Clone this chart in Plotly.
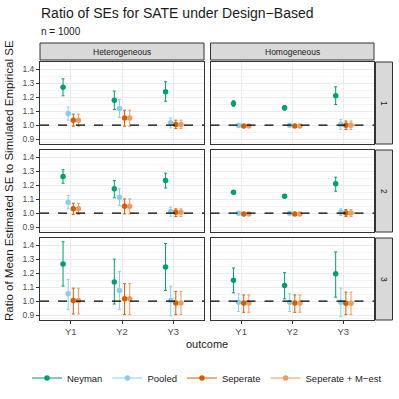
import plotly.graph_objects as go

# categories
outcomes = ["Y1", "Y2", "Y3"]
scenarios = ["Heterogeneous", "Homogeneous"]
settings = ["1", "2", "3"]
methods = ["Neyman", "Pooled", "Seperate", "Seperate + M\u2212est"]
colors = ["#009E73", "#87CEEB", "#D55E00", "#EE9A5E"]

# values indexed [setting][scenario][outcome]
neyman_est = [[[1.270, 1.179, 1.238], [1.155, 1.124, 1.210]],
              [[1.262, 1.174, 1.233], [1.150, 1.121, 1.210]],
              [[1.266, 1.137, 1.244], [1.149, 1.113, 1.196]]]
neyman_hi = [[[1.331, 1.243, 1.310], [1.174, 1.140, 1.274]],
             [[1.310, 1.233, 1.286], [1.152, 1.123, 1.257]],
             [[1.424, 1.300, 1.412], [1.237, 1.204, 1.352]]]
neyman_lo = [[[1.210, 1.112, 1.171], [1.136, 1.108, 1.148]],
             [[1.214, 1.110, 1.180], [1.148, 1.119, 1.157]],
             [[1.108, 0.980, 1.077], [1.060, 1.017, 1.029]]]

pooled_est = [[[1.083, 1.119, 1.017], [0.998, 1.000, 1.005]],
              [[1.079, 1.114, 1.012], [1.000, 1.000, 1.007]],
              [[1.053, 1.077, 1.005], [0.993, 0.993, 0.993]]]
pooled_hi = [[[1.130, 1.183, 1.052], [1.006, 1.006, 1.040]],
             [[1.126, 1.174, 1.043], [1.004, 1.004, 1.031]],
             [[1.156, 1.213, 1.108], [1.053, 1.053, 1.093]]]
pooled_lo = [[[1.036, 1.055, 0.981], [0.990, 0.994, 0.970]],
             [[1.031, 1.055, 0.979], [0.996, 0.996, 0.983]],
             [[0.940, 0.940, 0.897], [0.926, 0.926, 0.890]]]

sep_est = [[[1.036, 1.052, 1.005], [0.995, 0.995, 1.000]],
           [[1.031, 1.050, 1.007], [0.995, 0.995, 1.002]],
           [[1.005, 1.017, 0.988], [0.988, 0.988, 0.986]]]
sep_hi = [[[1.079, 1.107, 1.036], [1.002, 1.002, 1.030]],
          [[1.071, 1.102, 1.031], [0.999, 0.999, 1.026]],
          [[1.093, 1.125, 1.070], [1.045, 1.045, 1.065]]]
sep_lo = [[[0.993, 0.993, 0.976], [0.988, 0.988, 0.970]],
          [[0.990, 0.995, 0.976], [0.991, 0.991, 0.976]],
          [[0.909, 0.904, 0.904], [0.921, 0.921, 0.904]]]

sepm_est = [[[1.036, 1.052, 1.005], [0.995, 0.995, 1.000]],
            [[1.031, 1.050, 1.007], [0.995, 0.995, 1.002]],
            [[1.005, 1.017, 0.988], [0.988, 0.988, 0.986]]]
sepm_hi = [[[1.079, 1.107, 1.036], [1.002, 1.002, 1.030]],
           [[1.071, 1.102, 1.031], [0.999, 0.999, 1.026]],
           [[1.093, 1.125, 1.070], [1.045, 1.045, 1.065]]]
sepm_lo = [[[0.993, 0.993, 0.976], [0.988, 0.988, 0.970]],
           [[0.990, 0.995, 0.976], [0.991, 0.991, 0.976]],
           [[0.909, 0.904, 0.904], [0.921, 0.921, 0.904]]]

series = [(neyman_est, neyman_hi, neyman_lo),
          (pooled_est, pooled_hi, pooled_lo),
          (sep_est, sep_hi, sep_lo),
          (sepm_est, sepm_hi, sepm_lo)]
dodge = [-0.15, -0.05, 0.05, 0.15]

W = H = 399
def px(v):
    return v / W
def py(v):
    return 1 - v / H

col_x = [(px(40), px(204)), (px(210.5), px(374))]
row_y = [(py(144), py(62)), (py(232), py(150)), (py(320), py(238))]
yrange = [0.866, 1.451]

fig = go.Figure()
layout = {}
shapes = []
annotations = []
grid = "#EBEBEB"
border = "#333333"
tickfont = dict(family="Liberation Sans", size=8.5, color="#4D4D4D")

for r in range(3):
    for c in range(2):
        k = r * 2 + c + 1
        xa = "xaxis" if k == 1 else f"xaxis{k}"
        ya = "yaxis" if k == 1 else f"yaxis{k}"
        xr = "x" if k == 1 else f"x{k}"
        yr = "y" if k == 1 else f"y{k}"
        layout[xa] = dict(domain=col_x[c], anchor=yr, range=[0.4, 3.6],
                          tickvals=[1, 2, 3], ticktext=outcomes,
                          showticklabels=(r == 2), ticks="outside" if r == 2 else "",
                          ticklen=3, tickcolor="#333333", tickfont=dict(family="Liberation Sans", size=9.5, color="#4D4D4D"),
                          showgrid=True, gridcolor=grid, gridwidth=1, zeroline=False,
                          showline=True, mirror=True, linecolor=border, linewidth=1,
                          automargin=False)
        layout[ya] = dict(domain=row_y[r], anchor=xr, range=yrange,
                          tickvals=[0.9, 1.0, 1.1, 1.2, 1.3, 1.4],
                          ticktext=["0.9", "1.0", "1.1", "1.2", "1.3", "1.4"],
                          showticklabels=(c == 0), ticks="outside" if c == 0 else "",
                          ticklen=3, tickcolor="#333333", tickfont=tickfont,
                          showgrid=True, gridcolor=grid, gridwidth=1, zeroline=False,
                          minor=dict(tickvals=[0.875, 0.95, 1.05, 1.15, 1.25, 1.35, 1.45],
                                     showgrid=True, gridcolor="#F4F4F4", gridwidth=0.5),
                          showline=True, mirror=True, linecolor=border, linewidth=1,
                          automargin=False)
        for m, (est, hi, lo) in enumerate(series):
            e = est[r][c]
            fig.add_trace(go.Scatter(
                x=[i + 1 + dodge[m] for i in range(3)], y=e,
                mode="markers", xaxis=xr, yaxis=yr, showlegend=False,
                marker=dict(color=colors[m], size=5.5),
                error_y=dict(type="data", symmetric=False,
                             array=[hi[r][c][i] - e[i] for i in range(3)],
                             arrayminus=[e[i] - lo[r][c][i] for i in range(3)],
                             color=colors[m], thickness=1, width=1.5)))
        shapes.append(dict(type="line", xref=f"{xr} domain", yref=yr, x0=0, x1=1, y0=1, y1=1,
                           line=dict(color="black", width=1.3, dash="dash"), layer="above"))

def note(text, x, y, size, **kw):
    annotations.append(dict(text=text, xref="paper", yref="paper", x=x, y=y, showarrow=False,
                            xanchor=kw.pop("xanchor", "center"), yanchor="middle",
                            font=dict(family="Liberation Sans", size=size, color="#1A1A1A"), **kw))

# strips
for c in range(2):
    shapes.append(dict(type="rect", xref="paper", yref="paper", x0=col_x[c][0], x1=col_x[c][1],
                       y0=py(60), y1=py(43), fillcolor="#D9D9D9", line=dict(color=border, width=1)))
    note(scenarios[c], sum(col_x[c]) / 2, py(51.5), 8.5)
for r in range(3):
    shapes.append(dict(type="rect", xref="paper", yref="paper", x0=px(375.5), x1=px(392.5),
                       y0=row_y[r][0], y1=row_y[r][1], fillcolor="#D9D9D9", line=dict(color=border, width=1)))
    note(settings[r], px(384), sum(row_y[r]) / 2, 8.5, textangle=90)

note("outcome", px(207), py(344), 11)
note("Ratio of Mean Estimated SE to Simulated Empirical SE", px(9), py(181), 11.5, textangle=-90)
note("Ratio of SEs for SATE under Design\u2212Based", px(39), py(13), 14, xanchor="left")
note("n = 1000", px(39), py(31), 10, xanchor="left")

# legend entries
for m in range(4):
    fig.add_trace(go.Scatter(x=[None], y=[None], mode="lines+markers", name=methods[m],
                             marker=dict(color=colors[m], size=5.5),
                             line=dict(color=colors[m], width=1.2)))

fig.update_layout(**layout)
fig.update_layout(width=W, height=H, margin=dict(l=0, r=0, t=0, b=0),
                  plot_bgcolor="white", paper_bgcolor="white",
                  shapes=shapes, annotations=annotations,
                  legend=dict(orientation="h", x=px(207), xanchor="center", y=py(378), yanchor="middle",
                              font=dict(family="Liberation Sans", size=9.5, color="#1A1A1A"),
                              itemwidth=30, bgcolor="rgba(0,0,0,0)"))
# drop the browser's default 8px body margin so the figure fills the window
fig.write_html("out.html", config={"displayModeBar": False},
               post_script="document.body.style.margin = '0px';")
